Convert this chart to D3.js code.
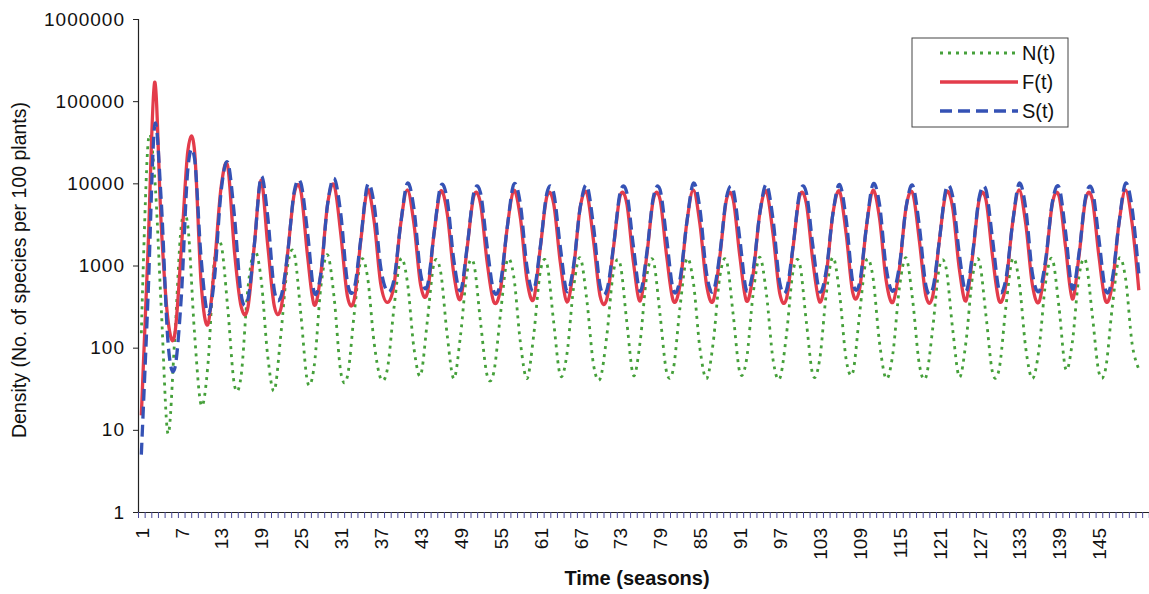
<!DOCTYPE html>
<html>
<head>
<meta charset="utf-8">
<script src="https://cdn.jsdelivr.net/npm/d3@7"></script>
<style>
  html, body { margin: 0; padding: 0; background: #ffffff; }
  svg { display: block; font-family: "Liberation Sans", Arial, sans-serif; }
</style>
</head>
<body>
<svg id="chart" width="1149" height="594"></svg>
<script>
'use strict';

//------------------------------------------------------------
// data (one value per season)
//------------------------------------------------------------
const seasonCount = 151;

const seriesN = [
    150, 30000, 12000, 300, 9, 120, 3000, 3000, 150, 20,
    60, 1200, 1800, 300, 35, 45, 500, 1500, 700, 80,
    30, 150, 1000, 1400, 250, 38, 60, 550, 1350, 400,
    50, 45, 253, 1140, 740, 116, 42, 55, 308, 1200,
    635, 98, 46, 207, 1050, 845, 141, 42, 141, 845,
    1050, 207, 46, 50, 253, 1140, 740, 116, 42, 141,
    845, 1050, 207, 46, 83, 537, 1240, 373, 62, 42,
    141, 845, 1050, 207, 46, 116, 740, 1140, 253, 50,
    55, 308, 1200, 635, 98, 42, 116, 740, 1140, 253,
    50, 71, 450, 1260, 450, 71, 42, 141, 845, 1050,
    207, 46, 71, 450, 1260, 450, 71, 50, 253, 1140,
    740, 116, 42, 83, 537, 1240, 373, 62, 44, 170,
    950, 950, 170, 44, 116, 740, 1140, 253, 50, 55,
    308, 1200, 635, 98, 42, 98, 635, 1200, 308, 55,
    116, 740, 1140, 253, 50, 55, 308, 1200, 700, 110,
    55
];

const seriesF = [
    15, 1500, 170000, 3000, 220, 140, 1500, 25000, 25000, 600,
    190, 1000, 9000, 16000, 1500, 320, 300, 1800, 11000, 1800,
    320, 300, 1400, 7500, 8000, 1300, 330, 800, 5500, 9500,
    2400, 420, 380, 2000, 8300, 3500, 600, 355, 580, 3200,
    8300, 3200, 580, 460, 2400, 8000, 4300, 780, 390, 1650,
    7000, 5700, 1100, 360, 510, 2800, 8200, 3800, 660, 390,
    1650, 7000, 5700, 1100, 360, 920, 5100, 7600, 2000, 420,
    390, 1650, 7000, 5700, 1100, 370, 1300, 6400, 6400, 1300,
    370, 580, 3200, 8300, 3200, 580, 370, 1300, 6400, 6400,
    1300, 370, 780, 4300, 8000, 2400, 460, 390, 1650, 7000,
    5700, 1100, 360, 780, 4300, 8000, 2400, 460, 510, 2800,
    8200, 3800, 660, 355, 920, 5100, 7600, 2000, 420, 420,
    2000, 7600, 5100, 920, 370, 1300, 6400, 6400, 1300, 370,
    580, 3200, 8300, 3200, 580, 360, 1100, 5700, 7000, 1650,
    390, 1300, 6400, 6400, 1300, 370, 580, 3200, 8300, 3200,
    500
];

const seriesS = [
    5, 400, 50000, 6000, 120, 55, 400, 15000, 20000, 1200,
    260, 700, 8000, 18000, 4000, 450, 380, 1800, 12000, 4000,
    500, 420, 1400, 8000, 10000, 2500, 470, 800, 5500, 11500,
    4200, 620, 520, 2100, 9500, 5600, 950, 485, 680, 3200,
    10000, 4900, 800, 560, 2400, 9200, 6300, 1150, 495, 1700,
    7700, 7700, 1700, 485, 610, 2800, 9700, 5600, 950, 500,
    1700, 7700, 7700, 1700, 485, 1000, 5100, 9400, 3000, 560,
    500, 1700, 7700, 7700, 1700, 485, 1400, 6800, 8400, 2100,
    500, 680, 3200, 10000, 4900, 800, 485, 1400, 6800, 8400,
    2100, 500, 880, 4300, 9700, 3600, 620, 500, 1700, 7700,
    7700, 1700, 485, 880, 4300, 9700, 3600, 620, 610, 2800,
    9700, 5600, 950, 485, 1000, 5100, 9400, 3000, 560, 520,
    2000, 8500, 7000, 1400, 485, 1400, 6800, 8400, 2100, 500,
    680, 3200, 10000, 4900, 800, 485, 1200, 5900, 9000, 2500,
    520, 1400, 6800, 8400, 2100, 500, 680, 3200, 10000, 4900,
    800
];

const seriesNames = ["N(t)", "F(t)", "S(t)"];
const xTickLabels = [1, 7, 13, 19, 25, 31, 37, 43, 49, 55, 61, 67, 73, 79, 85, 91, 97, 103, 109, 115, 121, 127, 133, 139, 145];
const yTickValues = [1, 10, 100, 1000, 10000, 100000, 1000000];

{ // start scope

//------------------------------------------------------------
// layout
//------------------------------------------------------------
const plotLeft = 138;
const plotTop = 19;
const plotBottom = 512;
const catWidth = 6.65;
const catSlots = 152;

const seasons = d3.range(1, seasonCount + 1);

const svg = d3.select("#chart");

svg.append("rect")
    .attr("width", 1149)
    .attr("height", 594)
    .attr("fill", "#ffffff");

const xScale = d3.scaleLinear()
    .domain([0.5, catSlots + 0.5])
    .range([plotLeft, plotLeft + catSlots * catWidth]);

const yScale = d3.scaleLog()
    .domain([1, 1000000])
    .range([plotBottom, plotTop]);

// clip lines to the plot area
svg.append("clipPath")
    .attr("id", "plot-clip")
    .append("rect")
    .attr("x", plotLeft)
    .attr("y", plotTop - 2)
    .attr("width", 1149 - plotLeft)
    .attr("height", plotBottom - plotTop + 2);

//------------------------------------------------------------
// axes
//------------------------------------------------------------
const yAxis = d3.axisLeft(yScale)
    .tickValues(yTickValues)
    .tickFormat(d3.format("d"))
    .tickSize(5)
    .tickPadding(8);

const yAxisG = svg.append("g")
    .attr("transform", `translate(${plotLeft},0)`)
    .call(yAxis);

yAxisG.select(".domain").attr("stroke", "#222").attr("stroke-width", 1.2);
yAxisG.selectAll(".tick line").attr("stroke", "#222");
yAxisG.selectAll("text")
    .attr("font-size", 19)
    .attr("letter-spacing", "1px")
    .attr("fill", "#111");

// small marks between every season
const xMarkAxis = d3.axisBottom(xScale)
    .tickValues(d3.range(0.5, catSlots + 0.6, 1))
    .tickFormat("")
    .tickSize(6)
    .tickSizeOuter(0);

const xMarkG = svg.append("g")
    .attr("transform", `translate(0,${plotBottom})`)
    .call(xMarkAxis);

xMarkG.select(".domain").attr("stroke", "#222").attr("stroke-width", 1.2);
xMarkG.selectAll(".tick line")
    .attr("stroke", "#4a4a9a")
    .attr("stroke-width", 1);

// rotated season labels
const xLabelAxis = d3.axisBottom(xScale)
    .tickValues(xTickLabels)
    .tickFormat(d3.format("d"))
    .tickSize(0);

const xLabelG = svg.append("g")
    .attr("transform", `translate(0,${plotBottom})`)
    .call(xLabelAxis);

xLabelG.select(".domain").remove();
xLabelG.selectAll("text")
    .attr("font-size", 19)
    .attr("fill", "#111")
    .attr("transform", "rotate(-90)")
    .attr("x", -16)
    .attr("y", 0)
    .attr("dy", "0.36em")
    .style("text-anchor", "end");

// axis titles
svg.append("text")
    .attr("transform", "translate(19,270) rotate(-90)")
    .attr("text-anchor", "middle")
    .attr("dominant-baseline", "central")
    .attr("font-size", 19.5)
    .attr("fill", "#111")
    .text("Density (No. of species per 100 plants)");

svg.append("text")
    .attr("x", 637)
    .attr("y", 585)
    .attr("text-anchor", "middle")
    .attr("font-size", 20)
    .attr("font-weight", "bold")
    .attr("fill", "#111")
    .text("Time (seasons)");

//------------------------------------------------------------
// lines
//------------------------------------------------------------
const seriesList = [
    { name: seriesNames[0], values: seriesN, color: "#45a03a", width: 2.8, dash: "3,5" },
    { name: seriesNames[1], values: seriesF, color: "#e33c4b", width: 3.3, dash: null },
    { name: seriesNames[2], values: seriesS, color: "#3552b5", width: 3.3, dash: "12,6" }
];

const lineGen = d3.line()
    .x((d, i) => xScale(seasons[i]))
    .y((d) => yScale(d))
    .curve(d3.curveCatmullRom.alpha(0));

const linesG = svg.append("g").attr("clip-path", "url(#plot-clip)");

linesG.selectAll("path")
    .data(seriesList)
    .enter()
    .append("path")
    .attr("d", (s) => lineGen(s.values))
    .attr("fill", "none")
    .attr("stroke", (s) => s.color)
    .attr("stroke-width", (s) => s.width)
    .attr("stroke-dasharray", (s) => s.dash)
    .attr("stroke-linejoin", "round");

//------------------------------------------------------------
// legend
//------------------------------------------------------------
const legendG = svg.append("g").attr("transform", "translate(912,38)");

legendG.append("rect")
    .attr("width", 156)
    .attr("height", 89)
    .attr("fill", "#ffffff")
    .attr("stroke", "#444")
    .attr("stroke-width", 1);

const legendRows = legendG.selectAll("g.row")
    .data(seriesList)
    .enter()
    .append("g")
    .attr("class", "row")
    .attr("transform", (s, i) => `translate(0,${15 + i * 29})`);

legendRows.append("line")
    .attr("x1", 28)
    .attr("x2", 106)
    .attr("stroke", (s) => s.color)
    .attr("stroke-width", (s) => s.width)
    .attr("stroke-dasharray", (s) => s.dash);

legendRows.append("text")
    .attr("x", 110)
    .attr("dominant-baseline", "central")
    .attr("font-size", 20)
    .attr("fill", "#111")
    .text((s) => s.name);

} // end scope
</script>
</body>
</html>
